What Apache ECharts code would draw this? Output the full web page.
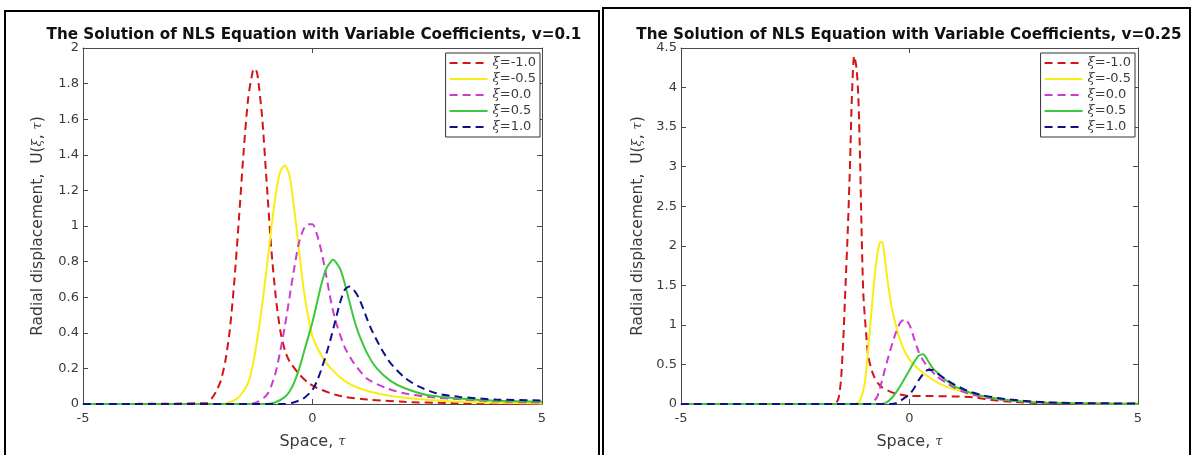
<!DOCTYPE html>
<html><head><meta charset="utf-8">
<script src="https://cdn.jsdelivr.net/npm/echarts@6/dist/echarts.min.js"></script>
<style>html,body{margin:0;padding:0;background:#fff}#c{width:1194px;height:455px}</style>
</head><body><div id="c"></div>
<script>
// ---------- DATA ----------
const seriesNames = ['ξ=-1.0', 'ξ=-0.5', 'ξ=0.0', 'ξ=0.5', 'ξ=1.0'];
const leftTitle = 'The Solution of NLS Equation with Variable Coefficients, v=0.1';
const rightTitle = 'The Solution of NLS Equation with Variable Coefficients, v=0.25';
const xTicks = [-5, 0, 5];
const leftYTicks = [0, 0.2, 0.4, 0.6, 0.8, 1, 1.2, 1.4, 1.6, 1.8, 2];
const rightYTicks = [0, 0.5, 1, 1.5, 2, 2.5, 3, 3.5, 4, 4.5];

// v = 0.1  ([tau, U] pairs)
const v01_xiM10 = [[-5,0],[-2.3,0.005],[-2.2,0.03],[-2.1,0.07],[-2.0,0.13],[-1.9,0.24],[-1.8,0.42],[-1.7,0.7],[-1.6,1.05],[-1.5,1.42],[-1.4,1.72],[-1.3,1.87],[-1.25,1.885],[-1.2,1.85],[-1.1,1.62],[-1.0,1.25],[-0.9,0.88],[-0.8,0.6],[-0.7,0.41],[-0.6,0.3],[-0.5,0.24],[-0.3,0.17],[-0.1,0.12],[0.1,0.09],[0.4,0.06],[0.7,0.04],[1.2,0.025],[2.0,0.012],[3.0,0.005],[5,0]];
const v01_xiM05 = [[-5,0],[-2.0,0],[-1.8,0.01],[-1.6,0.04],[-1.4,0.12],[-1.3,0.22],[-1.2,0.37],[-1.1,0.55],[-1.0,0.76],[-0.9,0.98],[-0.8,1.18],[-0.7,1.31],[-0.6,1.34],[-0.5,1.28],[-0.4,1.1],[-0.3,0.88],[-0.2,0.66],[-0.1,0.5],[0,0.38],[0.2,0.27],[0.4,0.2],[0.7,0.13],[1.0,0.09],[1.5,0.055],[2.0,0.035],[3.0,0.015],[4.0,0.007],[5,0.003]];
const v01_xi00 = [[-5,0],[-1.4,0],[-1.2,0.01],[-1.0,0.05],[-0.9,0.1],[-0.8,0.18],[-0.7,0.3],[-0.6,0.44],[-0.5,0.6],[-0.4,0.76],[-0.3,0.9],[-0.2,0.98],[-0.1,1.01],[0,1.01],[0.1,0.95],[0.2,0.85],[0.3,0.72],[0.4,0.58],[0.5,0.47],[0.7,0.32],[0.9,0.23],[1.2,0.14],[1.6,0.09],[2.0,0.06],[2.5,0.04],[3.0,0.03],[4.0,0.015],[5,0.008]];
const v01_xi05 = [[-5,0],[-1.0,0],[-0.8,0.01],[-0.6,0.04],[-0.5,0.07],[-0.4,0.12],[-0.3,0.19],[-0.2,0.28],[-0.1,0.37],[0,0.46],[0.1,0.57],[0.2,0.68],[0.3,0.76],[0.4,0.8],[0.45,0.81],[0.5,0.8],[0.6,0.76],[0.7,0.68],[0.8,0.58],[0.9,0.48],[1.0,0.4],[1.2,0.28],[1.4,0.2],[1.7,0.13],[2.0,0.09],[2.5,0.05],[3.0,0.035],[3.5,0.025],[4.0,0.018],[5,0.012]];
const v01_xi10 = [[-5,0],[-0.6,0],[-0.4,0.01],[-0.2,0.03],[0,0.08],[0.1,0.13],[0.2,0.2],[0.3,0.28],[0.4,0.37],[0.5,0.47],[0.6,0.57],[0.7,0.64],[0.8,0.66],[0.9,0.64],[1.0,0.6],[1.1,0.54],[1.2,0.47],[1.3,0.41],[1.5,0.31],[1.7,0.23],[2.0,0.15],[2.3,0.1],[2.7,0.06],[3.2,0.04],[4.0,0.025],[5,0.02]];

// v = 0.25
const v025_xiM10 = [[-5,0],[-1.7,0],[-1.6,0.02],[-1.55,0.08],[-1.5,0.3],[-1.45,0.8],[-1.4,1.5],[-1.35,2.2],[-1.3,3.06],[-1.26,3.89],[-1.21,4.4],[-1.16,4.25],[-1.12,3.89],[-1.08,3.06],[-1.05,2.23],[-1.01,1.39],[-0.95,0.9],[-0.9,0.6],[-0.8,0.38],[-0.7,0.27],[-0.6,0.21],[-0.4,0.15],[-0.2,0.12],[0,0.1],[0.5,0.1],[1.0,0.095],[1.4,0.085],[1.8,0.05],[2.3,0.025],[3.0,0.01],[4.0,0.003],[5,0]];
const v025_xiM05 = [[-5,0],[-1.2,0],[-1.1,0.03],[-1.0,0.2],[-0.95,0.4],[-0.9,0.72],[-0.85,1.05],[-0.8,1.38],[-0.75,1.68],[-0.7,1.9],[-0.65,2.04],[-0.6,2.05],[-0.55,1.9],[-0.5,1.65],[-0.4,1.25],[-0.3,1.0],[-0.2,0.8],[-0.1,0.66],[0,0.56],[0.2,0.44],[0.5,0.31],[0.8,0.22],[1.2,0.15],[1.6,0.1],[2.0,0.06],[2.5,0.035],[3.0,0.02],[4.0,0.008],[5,0.003]];
const v025_xi00 = [[-5,0],[-0.9,0],[-0.8,0.02],[-0.7,0.1],[-0.6,0.3],[-0.5,0.52],[-0.4,0.72],[-0.3,0.9],[-0.2,1.03],[-0.1,1.07],[0,1.0],[0.1,0.83],[0.2,0.66],[0.3,0.55],[0.4,0.47],[0.6,0.35],[0.8,0.27],[1.0,0.2],[1.3,0.13],[1.7,0.08],[2.2,0.045],[3.0,0.02],[4.0,0.007],[5,0.003]];
const v025_xi05 = [[-5,0],[-0.6,0],[-0.5,0.02],[-0.4,0.07],[-0.3,0.14],[-0.2,0.23],[-0.1,0.33],[0,0.43],[0.1,0.53],[0.2,0.61],[0.3,0.63],[0.4,0.55],[0.5,0.46],[0.6,0.4],[0.8,0.3],[1.0,0.22],[1.3,0.15],[1.6,0.1],[2.0,0.06],[2.5,0.03],[3.0,0.015],[4.0,0.005],[5,0.002]];
const v025_xi10 = [[-5,0],[-0.4,0],[-0.3,0.01],[-0.2,0.04],[-0.1,0.08],[0,0.12],[0.1,0.2],[0.2,0.3],[0.3,0.38],[0.4,0.43],[0.5,0.43],[0.6,0.39],[0.8,0.31],[1.0,0.24],[1.3,0.16],[1.6,0.11],[2.0,0.07],[2.5,0.04],[3.0,0.02],[4.0,0.01],[5,0.005]];

const leftData = [v01_xiM10, v01_xiM05, v01_xi00, v01_xi05, v01_xi10];
const rightData = [v025_xiM10, v025_xiM05, v025_xi00, v025_xi05, v025_xi10];

// ---------- STYLE ----------
const colors = ['#d41515', '#f7ef12', '#cf3acf', '#3bc83b', '#10108f'];
const dashes = [[8, 5], 'solid', [8, 5], 'solid', [8, 5]];
const FONT = 'DejaVu Sans';
const AX = '#4a4a4a';
const TXT = '#3a3a3a';
const italicRich = (size) => ({ it: { fontFamily: 'DejaVu Serif', fontStyle: 'italic', fontSize: size, color: TXT } });

function mkX(grid, pos, showLabel, name) {
  return {
    type: 'value', gridIndex: grid, position: pos, min: xTicks[0], max: xTicks[xTicks.length - 1], interval: 5,
    axisLine: { show: true, onZero: false, lineStyle: { color: AX, width: 1 } },
    axisTick: { show: true, inside: true, length: 5, lineStyle: { color: AX } },
    axisLabel: { show: showLabel, margin: 8, color: TXT, fontFamily: FONT, fontSize: 13 },
    splitLine: { show: false },
    name: name || '', nameLocation: 'middle', nameGap: 30,
    nameTextStyle: { color: TXT, fontFamily: FONT, fontSize: 16, rich: italicRich(13) }
  };
}
function mkY(grid, pos, showLabel, ticks, name, gap) {
  const step = ticks[1] - ticks[0];
  return {
    type: 'value', gridIndex: grid, position: pos, min: ticks[0], max: ticks[ticks.length - 1], interval: step,
    axisLine: { show: true, onZero: false, lineStyle: { color: AX, width: 1 } },
    axisTick: { show: true, inside: true, length: 5, lineStyle: { color: AX } },
    axisLabel: { show: showLabel, margin: 4, color: TXT, fontFamily: FONT, fontSize: 13,
      formatter: v => String(+v.toFixed(2)) },
    splitLine: { show: false },
    name: name || '', nameLocation: 'middle', nameRotate: 90, nameGap: gap || 40,
    nameTextStyle: { color: TXT, fontFamily: FONT, fontSize: 15.5, rich: italicRich(13) }
  };
}

const xName = 'Space, {it|τ}';
const yName = 'Radial displacement,  U({it|ξ}, {it|τ})';

const series = [];
[leftData, rightData].forEach((set, g) => {
  set.forEach((d, i) => {
    series.push({
      name: seriesNames[i], type: 'line', xAxisIndex: g * 2, yAxisIndex: g * 2,
      data: d, symbol: 'none', showSymbol: false, smooth: 0.25, clip: true,
      lineStyle: { color: colors[i], width: 2, type: dashes[i] },
      itemStyle: { color: colors[i] }, z: 2 + i
    });
  });
});

function mkLegend(right) {
  return {
    orient: 'vertical', right: right, top: 53, data: seriesNames,
    itemWidth: 38, itemHeight: 12, itemGap: 2, padding: [3, 4, 3, 3],
    borderColor: '#333', borderWidth: 1, backgroundColor: '#fff',
    selectedMode: false,
    itemStyle: { opacity: 0 },
    textStyle: { fontFamily: FONT, fontSize: 13, color: TXT, lineHeight: 14, rich: italicRich(13) },
    formatter: n => '{it|ξ}' + n.slice(1)
  };
}

const chart = echarts.init(document.getElementById('c'), null, { renderer: 'canvas' });
chart.setOption({
  animation: false,
  backgroundColor: '#fff',
  title: [
    { text: leftTitle, left: 309, top: 23, textAlign: 'center',
      textStyle: { fontFamily: FONT, fontWeight: 'bold', fontSize: 15.2, color: '#111' } },
    { text: rightTitle, left: 904, top: 23, textAlign: 'center',
      textStyle: { fontFamily: FONT, fontWeight: 'bold', fontSize: 15.2, color: '#111' } }
  ],
  grid: [
    { left: 83, right: 1194 - 542, top: 48, bottom: 455 - 408, containLabel: false },
    { left: 681, right: 1194 - 1138, top: 48, bottom: 455 - 408, containLabel: false }
  ],
  xAxis: [mkX(0, 'bottom', true, xName), mkX(0, 'top', false), mkX(1, 'bottom', true, xName), mkX(1, 'top', false)],
  yAxis: [mkY(0, 'left', true, leftYTicks, yName, 37), mkY(0, 'right', false, leftYTicks),
          mkY(1, 'left', true, rightYTicks, yName, 35), mkY(1, 'right', false, rightYTicks)],
  legend: [mkLegend(1194 - 540), mkLegend(1194 - 1135)],
  graphic: [
    { type: 'rect', shape: { x: 5, y: 11, width: 594, height: 470 }, style: { fill: 'none', stroke: '#000', lineWidth: 2 }, silent: true },
    { type: 'rect', shape: { x: 603, y: 8, width: 587, height: 470 }, style: { fill: 'none', stroke: '#000', lineWidth: 2 }, silent: true }
  ],
  series: series
});
</script></body></html>
